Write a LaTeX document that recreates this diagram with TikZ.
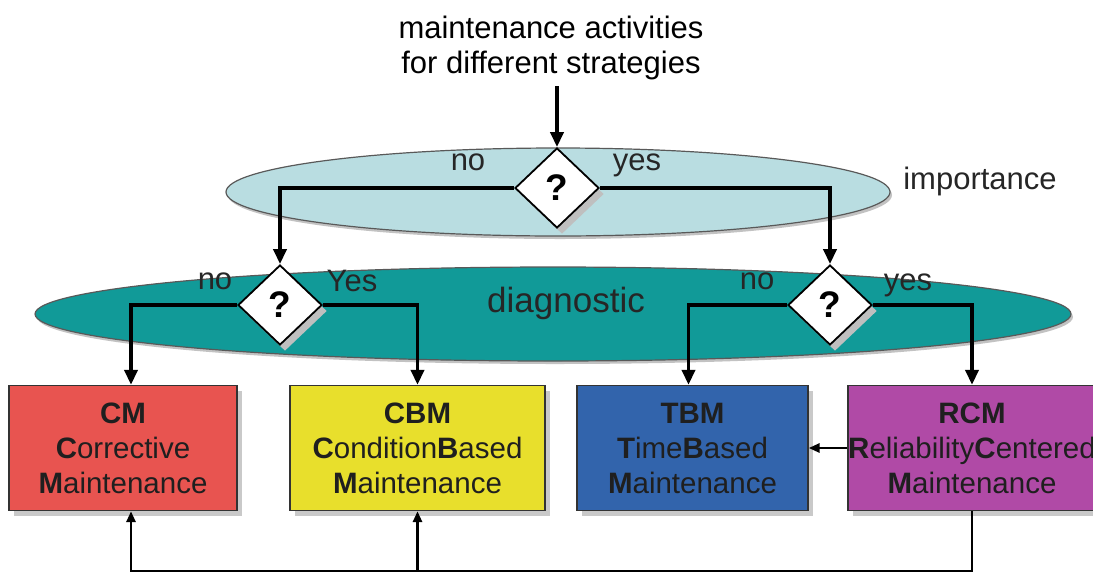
\documentclass[tikz,border=0pt]{standalone}
\usepackage{fontspec}
\setmainfont{Liberation Sans}
\usetikzlibrary{arrows.meta,shapes.geometric,shadows}

\definecolor{impfill}{HTML}{B9DDE1}
\definecolor{diagfill}{HTML}{119A98}
\definecolor{cmfill}{HTML}{E85450}
\definecolor{cbmfill}{HTML}{E8DF2C}
\definecolor{tbmfill}{HTML}{3264AC}
\definecolor{rcmfill}{HTML}{B04AA6}

\begin{document}
\begin{tikzpicture}[x=1pt,y=-1pt,
  lbl/.style={font=\fontsize{31}{35}\selectfont, text=black!85, inner sep=0pt},
  layer/.style={ellipse, draw=black!65, line width=1.2pt,
    drop shadow={shadow xshift=2pt, shadow yshift=-3pt, fill=black!40, opacity=.6}},
  question/.style={diamond, aspect=1, draw=black, line width=1.8pt, fill=white,
    minimum width=84pt, minimum height=80pt, inner sep=0pt,
    font=\bfseries\fontsize{37}{40}\selectfont,
    drop shadow={shadow xshift=5pt, shadow yshift=-6pt, fill=black!25, opacity=1}},
  strategy/.style={rectangle, draw=black!80, line width=1.3pt, minimum height=125pt,
    align=center, text=black!88, inner sep=0pt,
    font=\fontsize{29.5}{35}\selectfont,
    drop shadow={shadow xshift=5pt, shadow yshift=-5pt, fill=black!30, opacity=.7}},
  flow/.style={line width=3.6pt, -{Triangle[length=15pt,width=13pt]}},
  back/.style={line width=2.8pt, -{Triangle[length=11pt,width=9pt]}}
]
\useasboundingbox (0,0) rectangle (1093,574);
\clip (0,0) rectangle (1093,574);

% decision layers
\node[layer, fill=impfill, minimum width=664pt, minimum height=88pt] (imp) at (558,192) {};
\node[layer, fill=diagfill, minimum width=1036pt, minimum height=94pt] (diag) at (553,314) {};

% title and layer names
\node[lbl, align=center, text=black] (title) at (551,48) {maintenance activities\\for different strategies};
\node[lbl] (impname) at (980,181) {importance};
\node[font=\fontsize{35}{40}\selectfont, text=black!85, inner sep=0pt] (diagname) at (566,303) {diagnostic};

% decisions
\node[question] (dtop) at (557,188) {?};
\node[question] (dl) at (280,305) {?};
\node[question] (dr) at (830,305) {?};

% branch labels
\node[lbl] at (468,162) {no};
\node[lbl] at (637,165) {yes};
\node[lbl] at (215,281) {no};
\node[lbl] at (352,281) {Yes};
\node[lbl] at (757,281) {no};
\node[lbl] at (908,285) {yes};

% strategies
\node[strategy, fill=cmfill, minimum width=228pt] (cm) at (123,448)
  {\textbf{CM}\\\textbf{C}orrective\\\textbf{M}aintenance};
\node[strategy, fill=cbmfill, minimum width=255pt] (cbm) at (417.5,448)
  {\textbf{CBM}\\\textbf{C}ondition\textbf{B}ased\\\textbf{M}aintenance};
\node[strategy, fill=tbmfill, minimum width=231pt] (tbm) at (692.5,448)
  {\textbf{TBM}\\\textbf{T}ime\textbf{B}ased\\\textbf{M}aintenance};
\node[strategy, fill=rcmfill, minimum width=248pt] (rcm) at (972,448)
  {\textbf{RCM}\\\textbf{R}eliability\textbf{C}entered\\\textbf{M}aintenance};

% decision flow
\draw[flow] (dtop.north |- title.south) ++(0,6) -- (dtop.north);
\draw[flow] (dtop.west) -| (dl.north);
\draw[flow] (dtop.east) -| (dr.north);
\draw[flow] (dl.west) -| ([xshift=8pt]cm.north);
\draw[flow] (dl.east) -| (cbm.north);
\draw[flow] (dr.west) -| ([xshift=-4pt]tbm.north);
\draw[flow] (dr.east) -| (rcm.north);
\draw[back] (rcm.west) -- (tbm.east);

% feedback from RCM
\coordinate (bot) at (972,571);
\draw[back] (rcm.south) -- (bot) -| ([xshift=8pt]cm.south);
\draw[back] (cbm.south |- bot) -- (cbm.south);
\end{tikzpicture}
\end{document}
